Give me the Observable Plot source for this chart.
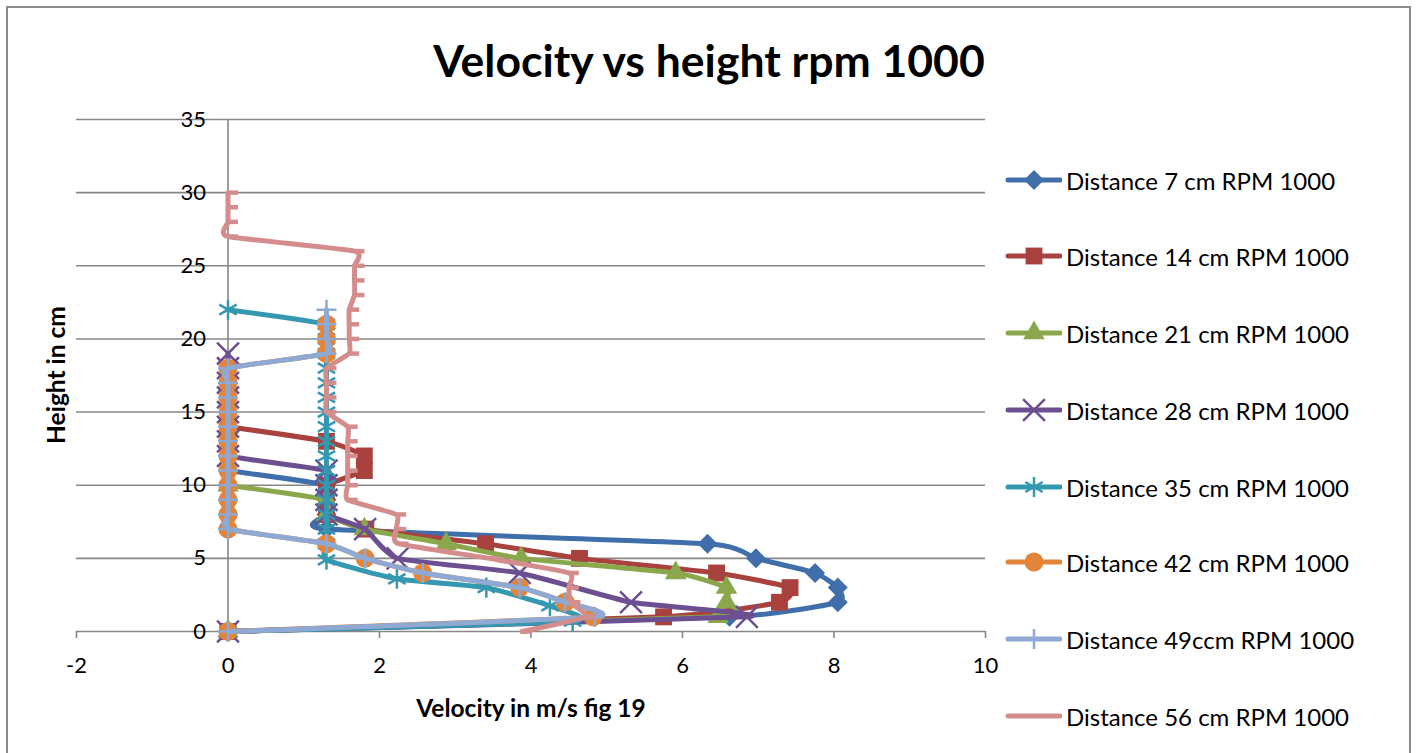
<!DOCTYPE html>
<html><head><meta charset="utf-8">
<script src="https://cdn.jsdelivr.net/npm/d3@7"></script>
<script src="https://cdn.jsdelivr.net/npm/@observablehq/plot@0.6"></script>
<style>
html,body{margin:0;padding:0;background:#fff;}
#wrap{position:relative;width:1416px;height:753px;overflow:hidden;font-family:Lato, sans-serif;color:#000;}
#frame{position:absolute;left:6px;top:6px;width:1405px;height:800px;border:2px solid #8c8c8c;box-sizing:border-box;}
#chart{position:absolute;left:0;top:0;}
#title{position:absolute;left:0;width:1418px;top:33px;text-align:center;font-weight:bold;font-size:44.5px;line-height:54px;}
#ylab{position:absolute;left:55px;top:375px;transform:translate(-50%,-50%) rotate(-90deg);font-weight:bold;font-size:24.5px;white-space:nowrap;}
#xlab{position:absolute;left:531px;top:707px;transform:translate(-50%,-50%);font-weight:bold;font-size:24.5px;white-space:nowrap;}
#legend{position:absolute;left:0;top:0;}
.item{position:absolute;left:1004px;height:30px;display:flex;align-items:center;font-size:24px;white-space:nowrap;}
.item svg{margin-right:4px;}
</style>
</head><body>
<div id="wrap">
  <div id="frame"></div>
  <div id="chart"></div>
  <div id="title">Velocity vs height rpm 1000</div>
  <div id="ylab">Height in cm</div>
  <div id="xlab">Velocity in m/s fig 19</div>
  <div id="legend"></div>
</div>
<script>
// ---- data (velocity in m/s, height in cm) ----
const xTicks = [-2, 0, 2, 4, 6, 8, 10];
const yTicks = [0, 5, 10, 15, 20, 25, 30, 35];

const names = ["Distance 7 cm RPM 1000","Distance 14 cm RPM 1000","Distance 21 cm RPM 1000","Distance 28 cm RPM 1000","Distance 35 cm RPM 1000","Distance 42 cm RPM 1000","Distance 49ccm RPM 1000","Distance 56 cm RPM 1000"];
const colors = ["#3f6eaa","#a9413e","#8aa84b","#6c4f91","#3598b1","#e2843a","#8ea9d4","#d48d8c"];

const d7H  = [0,1,2,3,4,5,6,7,8,9,10,11];
const d7V  = [0,6.62,8.05,8.05,7.75,6.97,6.33,1.3,1.3,1.3,1.3,0];
const d14H = [0,1,2,3,4,5,6,7,8,9,10,11,12,13,14];
const d14V = [0,5.75,7.28,7.42,6.45,4.64,3.40,1.82,1.3,1.3,1.3,1.8,1.8,1.3,0];
const d21H = [0,1,2,3,4,5,6,7,8,9,10];
const d21V = [0,6.47,6.58,6.58,5.91,3.87,2.88,1.8,1.3,1.3,0];
const d28H = [0,1,2,4,5,7,8,9,10,11,12,13,14,15,16,17,18,19];
const d28V = [0,6.85,5.32,3.85,2.24,1.81,1.3,1.3,1.3,1.3,0,0,0,0,0,0,0,0];
const d35H = [0,0.7,1.75,3,3.6,4.9,6,7,8,9,10,11,12,13,14,15,16,17,18,19,20,21,22];
const d35V = [0,4.55,4.25,3.41,2.23,1.3,1.3,1.3,1.3,1.3,1.3,1.3,1.3,1.3,1.3,1.3,1.3,1.3,1.3,1.3,1.3,1.3,0];
const d42H = [0,1,2,3,4,5,6,7,8,9,10,11,12,13,14,15,16,17,18,19,20,21];
const d42V = [0,4.82,4.45,3.85,2.57,1.81,1.3,0,0,0,0,0,0,0,0,0,0,0,0,1.3,1.3,1.3];
const d49H = [0,1,2,3,4,5,6,7,8,9,10,11,12,13,14,15,16,17,18,19,20,21,22];
const d49V = [0,4.84,4.45,3.85,2.57,1.81,1.3,0,0,0,0,0,0,0,0,0,0,0,0,1.3,1.3,1.3,1.3];
const d56H = [0,1,2,3,4,5,6,7,8,9,10,11,12,13,14,15,16,17,18,19,20,21,22,23,24,25,26,27,28,29,30];
const d56V = [3.88,4.72,4.52,4.5,4.5,3.45,2.25,2.22,2.22,1.58,1.58,1.58,1.58,1.58,1.58,1.3,1.3,1.3,1.3,1.6,1.6,1.6,1.6,1.67,1.67,1.67,1.67,0,0,0,0];

const allH = [d7H,d14H,d21H,d28H,d35H,d42H,d49H,d56H];
const allV = [d7V,d14V,d21V,d28V,d35V,d42V,d49V,d56V];

// marker styles (Excel defaults)
const spur = {draw(ctx, size){ const r = Math.sqrt(size/Math.PI); ctx.moveTo(0,0); ctx.lineTo(2*r,0); }};
const markers = [
  {symbol:"diamond2", r:9, filled:true},
  {symbol:"square", r:9.5, filled:true},
  {symbol:"triangle", r:8, filled:true},
  {symbol:"times", r:10, filled:false, sw:2.5},
  {symbol:"asterisk", r:9.5, filled:false, sw:2.5},
  {symbol:"circle", r:9.5, filled:true},
  {symbol:"plus", r:6.5, filled:false, sw:2.5},
  {symbol:spur, r:5, filled:false, sw:4.5}
];

const rows = allH.map((hs, i) => hs.map((h, j) => ({s: names[i], h, v: allV[i][j]})));
const smooth = d3.curveCardinal.tension(0.5);

const marks = [
  Plot.ruleY(yTicks, {stroke:"#878787", strokeWidth:1.6}),
  Plot.ruleX([0], {y1:0, y2:35, stroke:"#878787", strokeWidth:1.6}),
  Plot.axisX({ticks:xTicks, tickSize:7, tickPadding:19, stroke:"#878787", strokeWidth:1.6, tickFormat:d=>String(d), label:null, fontSize:22}),
  Plot.text(yTicks, {x:0, y:d=>d, text:d=>String(d), dx:-22, textAnchor:"end", fontSize:22})
];
rows.forEach((data, i) => {
  marks.push(Plot.line(data, {x:"v", y:"h", stroke:colors[i], strokeWidth:5, curve:smooth, strokeLinejoin:"round", strokeLinecap:"round"}));
  const m = markers[i];
  if (m.filled) marks.push(Plot.dot(data, {x:"v", y:"h", symbol:m.symbol, r:m.r, fill:colors[i], stroke:"none"}));
  else marks.push(Plot.dot(data, {x:"v", y:"h", symbol:m.symbol, r:m.r, fill:"none", stroke:colors[i], strokeWidth:m.sw}));
});

const chart = Plot.plot({
  width:1416, height:753,
  marginLeft:76, marginRight:431, marginTop:119, marginBottom:122,
  x:{domain:[-2,10]},
  y:{domain:[0,35], axis:null},
  style:{fontFamily:"Lato, sans-serif", fontSize:"22px", color:"#000", background:"transparent", overflow:"visible"},
  marks
});
document.getElementById("chart").appendChild(chart);

// legend
const legendY = [180,256,333,410,487,562,639,716];
const leg = document.getElementById("legend");
names.forEach((n, i) => {
  const div = document.createElement("div");
  div.className = "item";
  div.style.top = (legendY[i] - 15) + "px";
  const svg = d3.create("svg").attr("width", 58).attr("height", 30);
  svg.append("line").attr("x1", 4).attr("x2", 56).attr("y1", 15).attr("y2", 15)
    .attr("stroke", colors[i]).attr("stroke-width", 5).attr("stroke-linecap", "round");
  const m = markers[i];
  if (typeof m.symbol === "string") {
    const symMap = {diamond2:d3.symbolDiamond2, square:d3.symbolSquare, triangle:d3.symbolTriangle, times:d3.symbolTimes, asterisk:d3.symbolAsterisk, circle:d3.symbolCircle, plus:d3.symbolPlus};
    const p = d3.symbol(symMap[m.symbol], Math.PI * m.r * m.r)();
    const path = svg.append("path").attr("d", p).attr("transform", "translate(30,15)");
    if (m.filled) path.attr("fill", colors[i]);
    else path.attr("fill", "none").attr("stroke", colors[i]).attr("stroke-width", m.sw);
  }
  div.appendChild(svg.node());
  const span = document.createElement("span");
  span.textContent = n;
  div.appendChild(span);
  leg.appendChild(div);
});
</script>
</body></html>
